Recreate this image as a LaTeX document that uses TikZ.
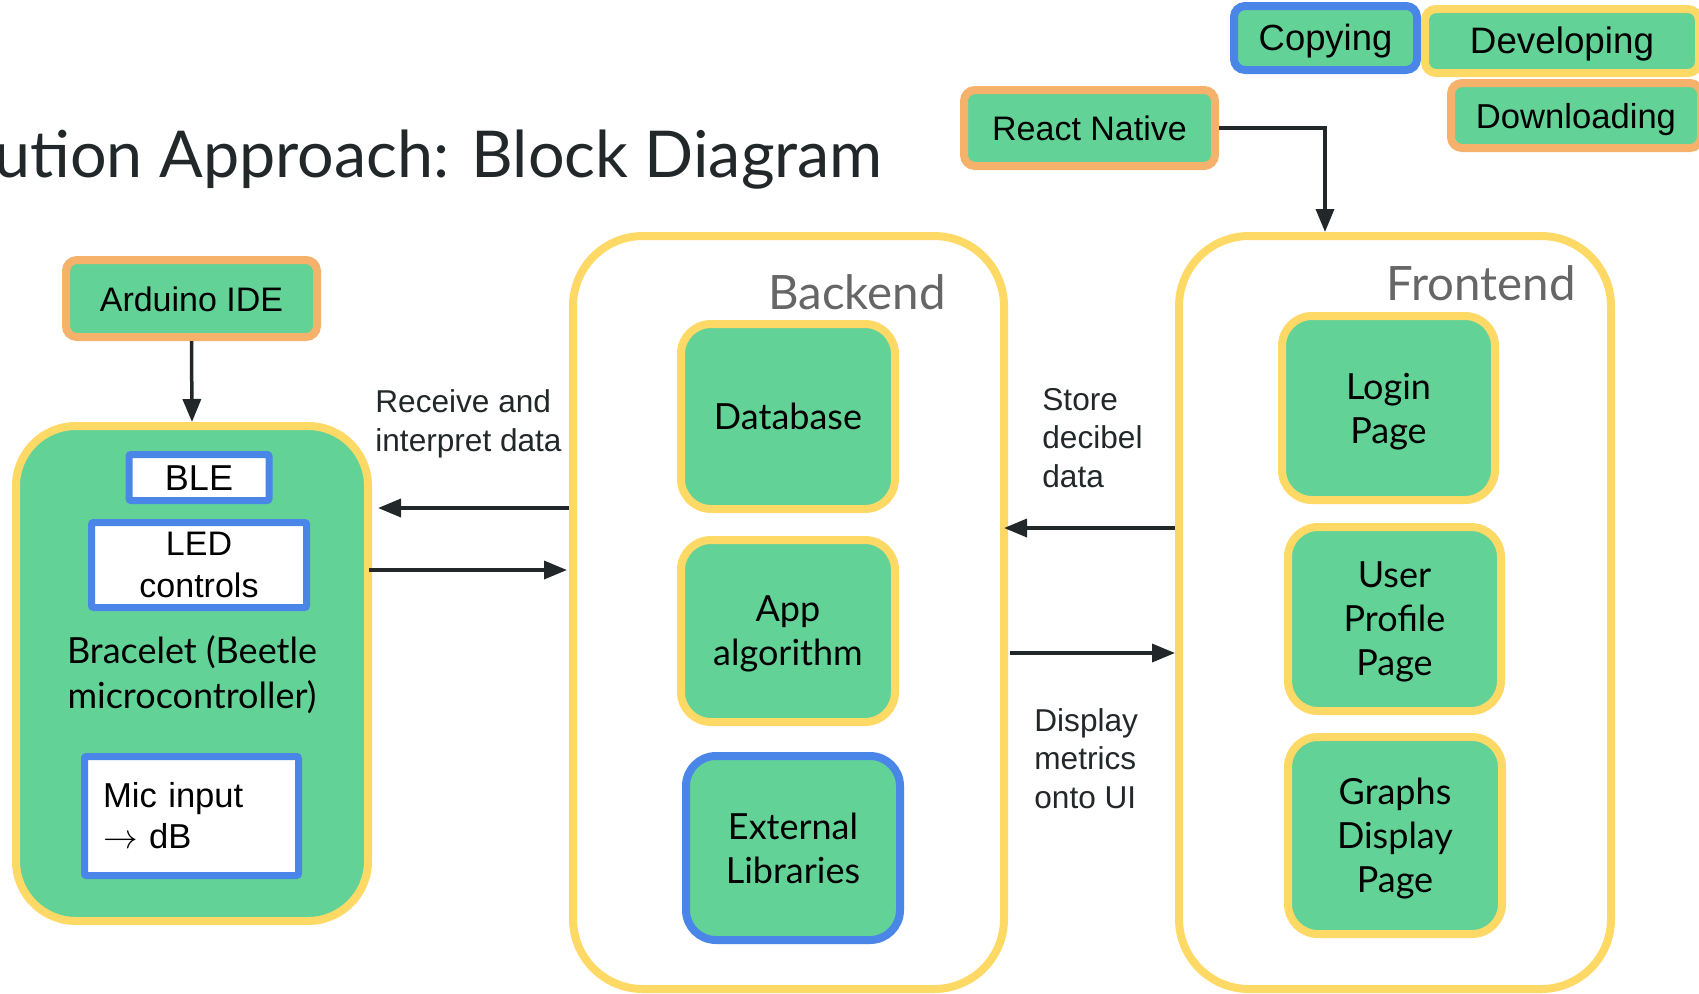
\documentclass[tikz,border=0pt]{standalone}
\usepackage{fontspec}
\setmainfont{Lato}
\newfontfamily\pn{Lato}
\newfontfamily\ar{Liberation Sans}
\usetikzlibrary{arrows.meta}
\definecolor{gr}{RGB}{99,210,151}
\definecolor{ye}{RGB}{255,217,102}
\definecolor{og}{RGB}{246,178,107}
\definecolor{bl}{RGB}{74,134,232}
\definecolor{ink}{RGB}{34,40,42}
\definecolor{lbl}{RGB}{102,102,102}
\tikzset{
  gbox/.style={draw=#1, fill=gr, line width=4pt, rounded corners=15pt, inner sep=0pt,
    align=center, text=black, text depth=-2.5pt, font=\pn\fontsize{18}{22}\selectfont},
  tag/.style={draw=#1, fill=gr, line width=4pt, rounded corners=5.5pt, inner sep=0pt,
    text=black, text height=12.5pt, text depth=0pt, font=\ar\fontsize{17}{20}\selectfont},
  wbox/.style={draw=bl, fill=white, line width=3.5pt, rounded corners=1pt, inner sep=0pt,
    align=center, text=black, font=\ar\fontsize{17}{21}\selectfont},
  cont/.style={draw=ye, fill=white, line width=4pt, rounded corners=35pt, inner sep=0pt},
  grp/.style={text=lbl, inner sep=0pt, anchor=base east, font=\pn\fontsize{23.7}{27}\selectfont},
  note/.style={text=ink, inner sep=0pt, anchor=base west, align=left,
    font=\ar\fontsize{15.8}{19.25}\selectfont},
  arr/.style={draw=ink, line width=1.75pt, -{Triangle[length=11.5pt,width=9pt]}}
}
\begin{document}
\begin{tikzpicture}[x=0.5pt,y=-0.5pt]
\useasboundingbox (0,0) rectangle (1699,993);

% title
\node[anchor=base east, inner sep=0pt, text=ink, font=\pn\fontsize{32.3}{38}\selectfont] (title) at (883,177) {ution Approach: Block Diagram};

% containers
\node[cont, minimum width=215.5pt, minimum height=376.5pt] (be) at (788.5,612.5) {};
\node[cont, minimum width=216pt, minimum height=376.5pt] (fe) at (1395,612.5) {};
\node[grp] (belbl) at (946,309) {Backend};
\node[grp] (felbl) at (1576,300) {Frontend};

% backend blocks
\node[gbox=ye, minimum width=107pt, minimum height=92.5pt] (db) at (788,416.5) {Database};
\node[gbox=ye, minimum width=107pt, minimum height=91pt] (app) at (788,631) {App\\algorithm};
\node[gbox=bl, minimum width=107pt, minimum height=92pt] (ext) at (793,848) {External\\Libraries};

% frontend blocks
\node[gbox=ye, minimum width=106.5pt, minimum height=92pt] (login) at (1388.5,408) {Login\\Page};
\node[gbox=ye, minimum width=106.5pt, minimum height=92pt] (user) at (1394.5,619) {User\\Profile\\Page};
\node[gbox=ye, minimum width=107pt, minimum height=98.5pt] (graph) at (1395,835.5) {Graphs\\Display\\Page};

% bracelet
\node[gbox=ye, rounded corners=30pt, minimum width=176pt, minimum height=247.5pt, text depth=1pt,
  font=\pn\fontsize{18}{22.5}\selectfont] (br) at (192,673.5) {Bracelet (Beetle\\microcontroller)};
\node[wbox, minimum width=70pt, minimum height=23pt, text height=13pt, text depth=0pt,
  font=\ar\fontsize{18}{21}\selectfont] (ble) at (199,477.5) {BLE};
\node[wbox, minimum width=107.5pt, minimum height=42.5pt] (led) at (199,565) {LED\\controls};
\node[wbox, minimum width=107pt, minimum height=59.5pt, text width=88.5pt, inner xsep=9.25pt,
  align=left, font=\ar\fontsize{17.3}{20.5}\selectfont] (mic) at (191.5,816) {Mic input\\$\rightarrow$ dB};

% tool tags
\node[tag=og, minimum width=125.5pt, minimum height=38.5pt] (ard) at (191.5,298.5) {Arduino IDE};
\node[tag=og, minimum width=125.5pt, minimum height=38pt] (rn) at (1089.5,128) {React Native};
\node[tag=bl, minimum width=91.5pt, minimum height=32pt, font=\ar\fontsize{18.2}{21}\selectfont] (copy) at (1325.5,38) {Copying};
\node[tag=ye, minimum width=137pt, minimum height=32pt, font=\ar\fontsize{18.4}{21}\selectfont] (dev) at (1562,41) {Developing};
\node[tag=og, minimum width=125pt, minimum height=32.5pt, font=\ar\fontsize{17.3}{21}\selectfont] (down) at (1576,115.5) {Downloading};

% notes (anchor = baseline of last line)
\node[note] (rx) at (375,451) {Receive and\\interpret data};
\node[note] (st) at (1042,487) {Store\\decibel\\data};
\node[note] (dp) at (1034,808) {Display\\metrics\\onto UI};

% connectors
\draw[arr] (ard.south) -- (br.north);
\draw[arr] (be.west |- 0,508) -- ([xshift=3pt]br.east |- 0,508);
\draw[arr] ([xshift=-1.5pt]br.east |- 0,570) -- ([xshift=-1pt]be.west |- 0,570);
\draw[arr] (fe.west |- 0,528) -- ([xshift=-2pt]be.east |- 0,528);
\draw[arr] ([xshift=1pt]be.east |- 0,653) -- (fe.west |- 0,653);
\draw[arr] (rn.east) -| ([xshift=-35pt]fe.north);
\end{tikzpicture}
\end{document}
